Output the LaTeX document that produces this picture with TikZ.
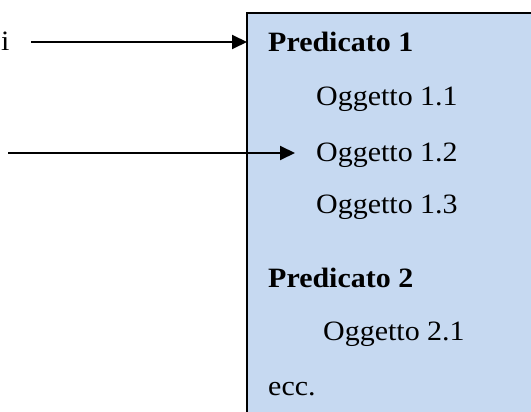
\documentclass[tikz,border=0pt]{standalone}
\usepackage{fontspec}
\setmainfont[FakeStretch=1.07]{Liberation Serif}
\usetikzlibrary{arrows.meta}
\definecolor{boxblue}{HTML}{C6D9F1}
\begin{document}
\begin{tikzpicture}[x=1pt,y=-1pt,
  txt/.style={inner sep=0pt, anchor=base west, font=\fontsize{28}{30}\selectfont},
  bold/.style={txt, font=\fontsize{28}{30}\selectfont\bfseries},
  conn/.style={line width=2pt, -{Triangle[length=15pt,width=14pt]}}]
\useasboundingbox (0,0) rectangle (531,412);
\clip (0,0) rectangle (531,412);
\node (box) [draw, line width=2pt, outer sep=0pt, fill=boxblue, anchor=north west,
  minimum width=330pt, minimum height=440pt] at (247,13) {};
\node (s) [txt] at (1,51) {i};
\node (p1) [bold] at (268,52) {Predicato 1};
\node (o11) [txt] at (316,106) {Oggetto 1.1};
\node (o12) [txt] at (316,161) {Oggetto 1.2};
\node (o13) [txt] at (316,214) {Oggetto 1.3};
\node (p2) [bold] at (268,287) {Predicato 2};
\node (o21) [txt] at (323,340) {Oggetto 2.1};
\node (ecc) [txt] at (268,395) {ecc.};
\coordinate (a1) at (31,42);
\coordinate (a2) at (8,153);
\draw[conn] (a1) -- (a1 -| box.west);
\draw[conn, shorten >=21pt] (a2) -- (a2 -| o12.west);
\end{tikzpicture}
\end{document}
